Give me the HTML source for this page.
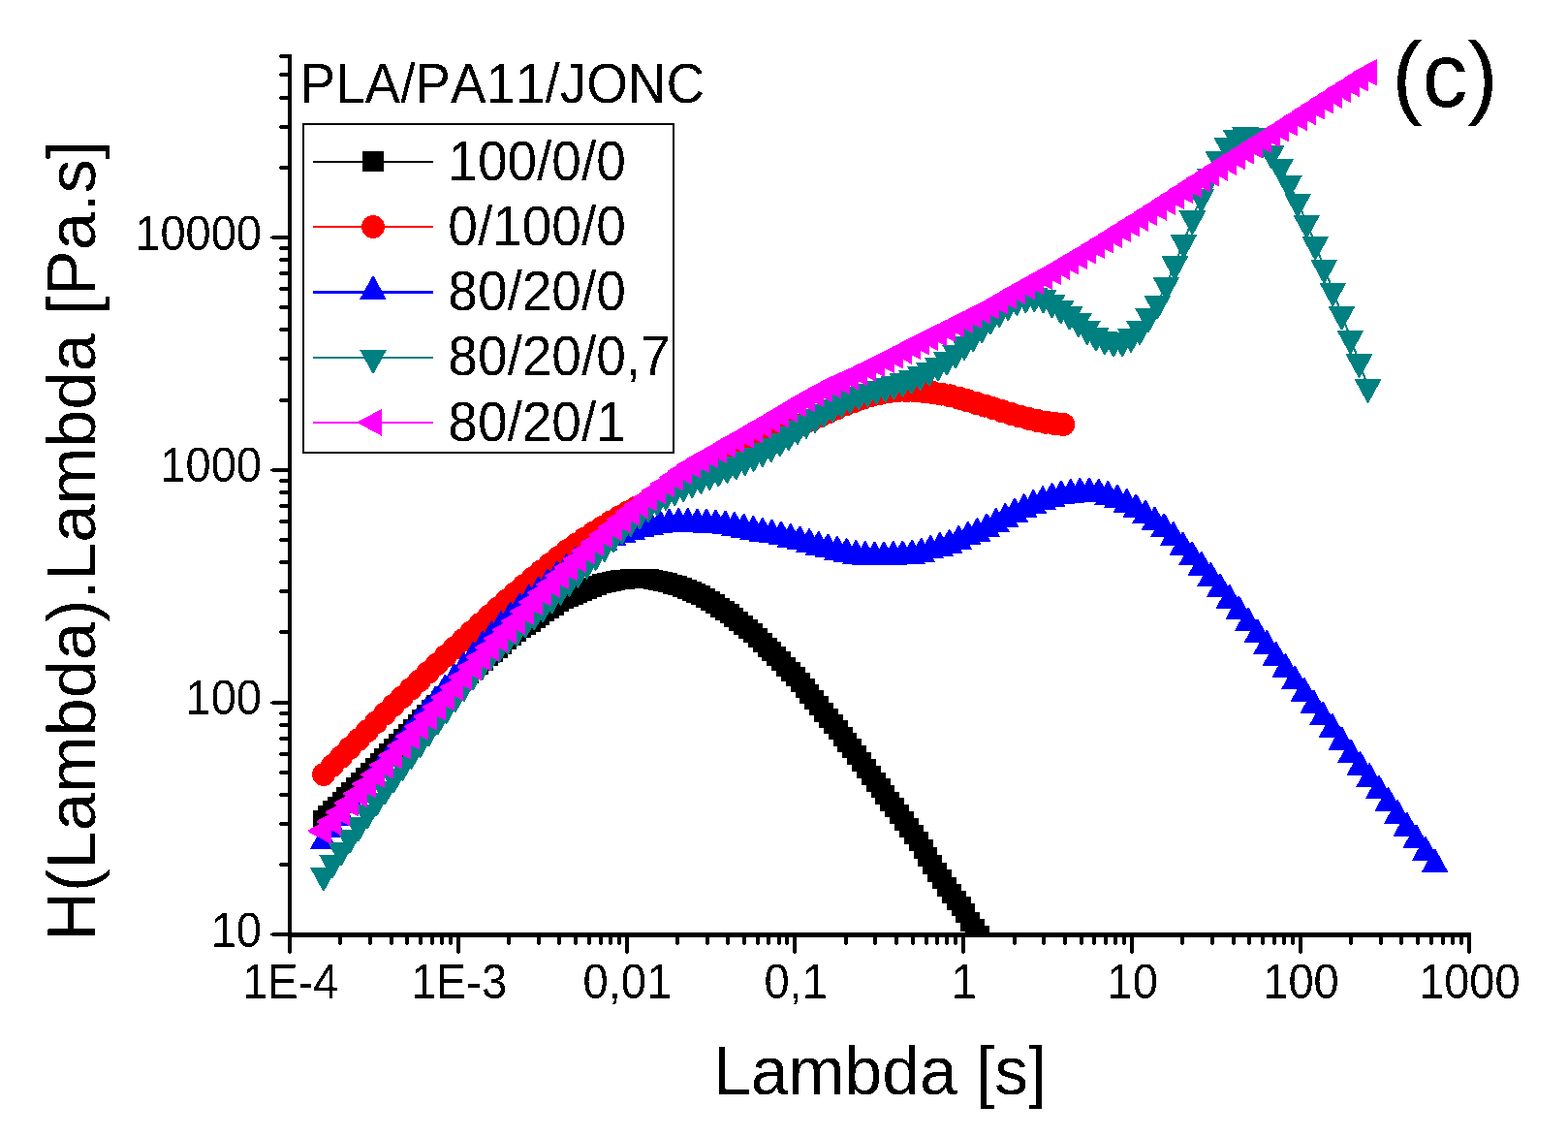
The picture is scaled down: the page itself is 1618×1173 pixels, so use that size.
<!DOCTYPE html>
<html lang="en">
<head>
<meta charset="utf-8">
<title>H(Lambda).Lambda vs Lambda - PLA/PA11/JONC (c)</title>
<style>
html,body{margin:0;padding:0;background:#fff;}
body{width:1618px;height:1173px;overflow:hidden;}
svg{display:block;}
text{font-family:"Liberation Sans",Arial,Helvetica,sans-serif;fill:#000;font-kerning:none;}
.tk{font-size:47px;}
.lg{font-size:55px;}
.ttl{font-size:69.6px;}
.pc{font-size:94px;}
</style>
</head>
<body>
<svg width="1618" height="1173" viewBox="0 0 1618 1173">
<rect width="1618" height="1173" fill="#fff"/>
<defs><filter id="bin" x="-5%" y="-20%" width="110%" height="140%" color-interpolation-filters="sRGB"><feComponentTransfer><feFuncA type="discrete" tableValues="0 1"/></feComponentTransfer></filter></defs>
<defs><clipPath id="frame"><rect x="299" y="0" width="1319" height="964"/></clipPath></defs>
<g clip-path="url(#frame)" shape-rendering="crispEdges">
<polyline fill="none" stroke="#000000" stroke-width="2" points="333,846 337.9,841.2 342.8,836.3 347.6,831.5 352.5,826.6 357.4,821.7 362.3,816.8 367.1,811.8 372,806.9 376.9,802 381.8,797 386.7,792 391.5,787.1 396.4,782.1 401.3,777.1 406.2,772.1 411,767.1 415.9,762 420.8,756.9 425.7,751.9 430.6,746.8 435.4,741.9 440.3,737 445.2,732.1 450.1,727.4 454.9,722.6 459.8,717.9 464.7,713.3 469.6,708.6 474.5,704 479.3,699.5 484.2,695 489.1,690.5 494,686 498.8,681.6 503.7,677.3 508.6,673.1 513.5,668.9 518.4,664.6 523.2,660 528.1,655.9 533,652 537.9,648.4 542.7,644.8 547.6,641.5 552.5,638.1 557.4,634.6 562.3,631.3 567.1,627.9 572,624.6 576.9,621.3 581.8,618.3 586.6,615.7 591.5,613.5 596.4,611.6 601.3,609.8 606.2,608.2 611,606.4 615.9,604.3 620.8,602.3 625.7,601.1 630.5,600.2 635.4,599.1 640.3,598.1 645.2,597.5 650.1,597.1 654.9,596.9 659.8,596.8 664.7,596.8 669.6,597 674.4,597.8 679.3,599.1 684.2,600.1 689.1,601.2 693.9,602.5 698.8,603.9 703.7,605.9 708.6,608.1 713.5,610 718.3,612 723.2,614.2 728.1,616.9 733,619.9 737.8,623.1 742.7,626.5 747.6,629.9 752.5,633.4 757.4,637 762.2,640.7 767.1,644.6 772,648.8 776.9,653.2 781.7,657.8 786.6,662.7 791.5,667.5 796.4,672.4 801.3,677.2 806.1,682.2 811,687.7 815.9,693.1 820.8,698.3 825.6,703.8 830.5,709.8 835.4,715.8 840.3,721.6 845.2,728 850,735.2 854.9,741.4 859.8,747.2 864.7,753.3 869.5,759.6 874.4,766 879.3,772.4 884.2,779.1 889.1,785.9 893.9,792.7 898.8,799.6 903.7,806.5 908.6,813.4 913.4,820.2 918.3,826.9 923.2,833.4 928.1,840 933,846.6 937.8,853.5 942.7,860.7 947.6,868.2 952.5,875.9 957.3,883.8 962.2,891.7 967.1,899.6 972,907.2 976.9,914.6 981.7,921.7 986.6,928.5 991.5,935.4 996.4,942.4 1001.2,950.5 1006.1,958.4 1011,965"/>
<path fill="#000000" d="M323 836h20v20h-20zM327.9 831.2h20v20h-20zM332.8 826.3h20v20h-20zM337.6 821.5h20v20h-20zM342.5 816.6h20v20h-20zM347.4 811.7h20v20h-20zM352.3 806.8h20v20h-20zM357.1 801.8h20v20h-20zM362 796.9h20v20h-20zM366.9 792h20v20h-20zM371.8 787h20v20h-20zM376.7 782h20v20h-20zM381.5 777.1h20v20h-20zM386.4 772.1h20v20h-20zM391.3 767.1h20v20h-20zM396.2 762.1h20v20h-20zM401 757.1h20v20h-20zM405.9 752h20v20h-20zM410.8 746.9h20v20h-20zM415.7 741.9h20v20h-20zM420.6 736.8h20v20h-20zM425.4 731.9h20v20h-20zM430.3 727h20v20h-20zM435.2 722.1h20v20h-20zM440.1 717.4h20v20h-20zM444.9 712.6h20v20h-20zM449.8 707.9h20v20h-20zM454.7 703.3h20v20h-20zM459.6 698.6h20v20h-20zM464.5 694h20v20h-20zM469.3 689.5h20v20h-20zM474.2 685h20v20h-20zM479.1 680.5h20v20h-20zM484 676h20v20h-20zM488.8 671.6h20v20h-20zM493.7 667.3h20v20h-20zM498.6 663.1h20v20h-20zM503.5 658.9h20v20h-20zM508.4 654.6h20v20h-20zM513.2 650h20v20h-20zM518.1 645.9h20v20h-20zM523 642h20v20h-20zM527.9 638.4h20v20h-20zM532.7 634.8h20v20h-20zM537.6 631.5h20v20h-20zM542.5 628.1h20v20h-20zM547.4 624.6h20v20h-20zM552.3 621.3h20v20h-20zM557.1 617.9h20v20h-20zM562 614.6h20v20h-20zM566.9 611.3h20v20h-20zM571.8 608.3h20v20h-20zM576.6 605.7h20v20h-20zM581.5 603.5h20v20h-20zM586.4 601.6h20v20h-20zM591.3 599.8h20v20h-20zM596.2 598.2h20v20h-20zM601 596.4h20v20h-20zM605.9 594.3h20v20h-20zM610.8 592.3h20v20h-20zM615.7 591.1h20v20h-20zM620.5 590.2h20v20h-20zM625.4 589.1h20v20h-20zM630.3 588.1h20v20h-20zM635.2 587.5h20v20h-20zM640.1 587.1h20v20h-20zM644.9 586.9h20v20h-20zM649.8 586.8h20v20h-20zM654.7 586.8h20v20h-20zM659.6 587h20v20h-20zM664.4 587.8h20v20h-20zM669.3 589.1h20v20h-20zM674.2 590.1h20v20h-20zM679.1 591.2h20v20h-20zM683.9 592.5h20v20h-20zM688.8 593.9h20v20h-20zM693.7 595.9h20v20h-20zM698.6 598.1h20v20h-20zM703.5 600h20v20h-20zM708.3 602h20v20h-20zM713.2 604.2h20v20h-20zM718.1 606.9h20v20h-20zM723 609.9h20v20h-20zM727.8 613.1h20v20h-20zM732.7 616.5h20v20h-20zM737.6 619.9h20v20h-20zM742.5 623.4h20v20h-20zM747.4 627h20v20h-20zM752.2 630.7h20v20h-20zM757.1 634.6h20v20h-20zM762 638.8h20v20h-20zM766.9 643.2h20v20h-20zM771.7 647.8h20v20h-20zM776.6 652.7h20v20h-20zM781.5 657.5h20v20h-20zM786.4 662.4h20v20h-20zM791.3 667.2h20v20h-20zM796.1 672.2h20v20h-20zM801 677.7h20v20h-20zM805.9 683.1h20v20h-20zM810.8 688.3h20v20h-20zM815.6 693.8h20v20h-20zM820.5 699.8h20v20h-20zM825.4 705.8h20v20h-20zM830.3 711.6h20v20h-20zM835.2 718h20v20h-20zM840 725.2h20v20h-20zM844.9 731.4h20v20h-20zM849.8 737.2h20v20h-20zM854.7 743.3h20v20h-20zM859.5 749.6h20v20h-20zM864.4 756h20v20h-20zM869.3 762.4h20v20h-20zM874.2 769.1h20v20h-20zM879.1 775.9h20v20h-20zM883.9 782.7h20v20h-20zM888.8 789.6h20v20h-20zM893.7 796.5h20v20h-20zM898.6 803.4h20v20h-20zM903.4 810.2h20v20h-20zM908.3 816.9h20v20h-20zM913.2 823.4h20v20h-20zM918.1 830h20v20h-20zM923 836.6h20v20h-20zM927.8 843.5h20v20h-20zM932.7 850.7h20v20h-20zM937.6 858.2h20v20h-20zM942.5 865.9h20v20h-20zM947.3 873.8h20v20h-20zM952.2 881.7h20v20h-20zM957.1 889.6h20v20h-20zM962 897.2h20v20h-20zM966.9 904.6h20v20h-20zM971.7 911.7h20v20h-20zM976.6 918.5h20v20h-20zM981.5 925.4h20v20h-20zM986.4 932.4h20v20h-20zM991.2 940.5h20v20h-20zM996.1 948.4h20v20h-20zM1001 955h20v20h-20z"/>
<polyline fill="none" stroke="#ff0000" stroke-width="2" points="334,799 343,789.9 352,780.9 360.9,771.9 369.9,763 378.9,754.2 387.9,745.4 396.9,736.6 405.8,727.9 414.8,719.3 423.8,710.8 432.8,702.3 441.7,693.8 450.7,685.4 459.7,677 468.7,668.6 477.7,660.2 486.6,652 495.6,643.8 504.6,635.6 513.6,627.6 522.6,619.7 531.5,611.9 540.5,604.3 549.5,596.8 558.5,589.3 567.4,582.1 576.4,575 585.4,568.1 594.4,561.6 603.4,555.5 612.3,549.6 621.3,544 630.3,538.5 639.3,533.3 648.3,528.2 657.2,523.4 666.2,518.8 675.2,514 684.2,509.3 693.2,504.5 702.1,499.9 711.1,495.3 720.1,490.8 729.1,486.3 738,481.8 747,477.4 756,473 765,468.6 774,464.2 782.9,459.8 791.9,455.4 800.9,451.1 809.9,446.7 818.9,442.2 827.8,437.9 836.8,433.6 845.8,429.4 854.8,425.3 863.8,421.2 872.7,417.4 881.7,414 890.7,410.6 899.7,407.8 908.6,405.8 917.6,404.1 926.6,403.1 935.6,403.1 944.6,403.5 953.5,404.2 962.5,405.1 971.5,406.6 980.5,408.4 989.5,410.7 998.4,413.3 1007.4,415.9 1016.4,418.6 1025.4,421.4 1034.3,424.2 1043.3,427 1052.3,429.5 1061.3,431.8 1070.3,433.9 1079.2,435.7 1088.2,437 1097.2,438"/>
<g fill="#ff0000"><circle cx="334" cy="799" r="12"/><circle cx="343" cy="789.9" r="12"/><circle cx="352" cy="780.9" r="12"/><circle cx="360.9" cy="771.9" r="12"/><circle cx="369.9" cy="763" r="12"/><circle cx="378.9" cy="754.2" r="12"/><circle cx="387.9" cy="745.4" r="12"/><circle cx="396.9" cy="736.6" r="12"/><circle cx="405.8" cy="727.9" r="12"/><circle cx="414.8" cy="719.3" r="12"/><circle cx="423.8" cy="710.8" r="12"/><circle cx="432.8" cy="702.3" r="12"/><circle cx="441.7" cy="693.8" r="12"/><circle cx="450.7" cy="685.4" r="12"/><circle cx="459.7" cy="677" r="12"/><circle cx="468.7" cy="668.6" r="12"/><circle cx="477.7" cy="660.2" r="12"/><circle cx="486.6" cy="652" r="12"/><circle cx="495.6" cy="643.8" r="12"/><circle cx="504.6" cy="635.6" r="12"/><circle cx="513.6" cy="627.6" r="12"/><circle cx="522.6" cy="619.7" r="12"/><circle cx="531.5" cy="611.9" r="12"/><circle cx="540.5" cy="604.3" r="12"/><circle cx="549.5" cy="596.8" r="12"/><circle cx="558.5" cy="589.3" r="12"/><circle cx="567.4" cy="582.1" r="12"/><circle cx="576.4" cy="575" r="12"/><circle cx="585.4" cy="568.1" r="12"/><circle cx="594.4" cy="561.6" r="12"/><circle cx="603.4" cy="555.5" r="12"/><circle cx="612.3" cy="549.6" r="12"/><circle cx="621.3" cy="544" r="12"/><circle cx="630.3" cy="538.5" r="12"/><circle cx="639.3" cy="533.3" r="12"/><circle cx="648.3" cy="528.2" r="12"/><circle cx="657.2" cy="523.4" r="12"/><circle cx="666.2" cy="518.8" r="12"/><circle cx="675.2" cy="514" r="12"/><circle cx="684.2" cy="509.3" r="12"/><circle cx="693.2" cy="504.5" r="12"/><circle cx="702.1" cy="499.9" r="12"/><circle cx="711.1" cy="495.3" r="12"/><circle cx="720.1" cy="490.8" r="12"/><circle cx="729.1" cy="486.3" r="12"/><circle cx="738" cy="481.8" r="12"/><circle cx="747" cy="477.4" r="12"/><circle cx="756" cy="473" r="12"/><circle cx="765" cy="468.6" r="12"/><circle cx="774" cy="464.2" r="12"/><circle cx="782.9" cy="459.8" r="12"/><circle cx="791.9" cy="455.4" r="12"/><circle cx="800.9" cy="451.1" r="12"/><circle cx="809.9" cy="446.7" r="12"/><circle cx="818.9" cy="442.2" r="12"/><circle cx="827.8" cy="437.9" r="12"/><circle cx="836.8" cy="433.6" r="12"/><circle cx="845.8" cy="429.4" r="12"/><circle cx="854.8" cy="425.3" r="12"/><circle cx="863.8" cy="421.2" r="12"/><circle cx="872.7" cy="417.4" r="12"/><circle cx="881.7" cy="414" r="12"/><circle cx="890.7" cy="410.6" r="12"/><circle cx="899.7" cy="407.8" r="12"/><circle cx="908.6" cy="405.8" r="12"/><circle cx="917.6" cy="404.1" r="12"/><circle cx="926.6" cy="403.1" r="12"/><circle cx="935.6" cy="403.1" r="12"/><circle cx="944.6" cy="403.5" r="12"/><circle cx="953.5" cy="404.2" r="12"/><circle cx="962.5" cy="405.1" r="12"/><circle cx="971.5" cy="406.6" r="12"/><circle cx="980.5" cy="408.4" r="12"/><circle cx="989.5" cy="410.7" r="12"/><circle cx="998.4" cy="413.3" r="12"/><circle cx="1007.4" cy="415.9" r="12"/><circle cx="1016.4" cy="418.6" r="12"/><circle cx="1025.4" cy="421.4" r="12"/><circle cx="1034.3" cy="424.2" r="12"/><circle cx="1043.3" cy="427" r="12"/><circle cx="1052.3" cy="429.5" r="12"/><circle cx="1061.3" cy="431.8" r="12"/><circle cx="1070.3" cy="433.9" r="12"/><circle cx="1079.2" cy="435.7" r="12"/><circle cx="1088.2" cy="437" r="12"/><circle cx="1097.2" cy="438" r="12"/></g>
<polyline fill="none" stroke="#0000ff" stroke-width="3" points="334,868 343.6,855.6 353.3,843.4 362.9,831.1 372.5,819 382.2,806.9 391.8,794.9 401.4,783 411.1,771.1 420.7,759.2 430.4,747.4 440,735.7 449.6,724 459.3,712.3 468.9,700.9 478.5,689.6 488.2,678.6 497.8,667.8 507.4,657 517.1,646.7 526.7,637.2 536.3,628.1 546,619.4 555.6,611 565.2,603 574.9,595.2 584.5,587.7 594.2,579.9 603.8,572 613.4,564.9 623.1,559.4 632.7,555.2 642.3,551.6 652,548.5 661.6,546.2 671.2,544.2 680.9,542.3 690.5,541 700.1,540.6 709.8,540.7 719.4,541 729,541.4 738.7,542 748.3,543.1 758,544.6 767.6,546.4 777.2,548.4 786.9,550.4 796.5,552.3 806.1,554.2 815.8,556.4 825.4,559 835,561.6 844.7,564.4 854.3,567 863.9,569.5 873.6,571.6 883.2,573.4 892.8,574.6 902.5,575.2 912.1,575.1 921.8,574.7 931.4,574.2 941,573.5 950.7,571.4 960.3,568.3 969.9,565.6 979.6,562.6 989.2,558.6 998.8,554.3 1008.5,550.7 1018.1,545.9 1027.7,540.6 1037.4,535.4 1047,530.4 1056.6,525.8 1066.3,521.7 1075.9,517.8 1085.6,514.6 1095.2,512.2 1104.8,510.5 1114.5,509.5 1124.1,509.4 1133.7,510.3 1143.4,512.6 1153,516.2 1162.6,520.6 1172.3,526 1181.9,532.2 1191.5,539 1201.2,545.9 1210.8,554.8 1220.4,564.9 1230.1,575 1239.7,585.5 1249.4,596.5 1259,608 1268.6,619.5 1278.3,631.1 1287.9,643 1297.5,655 1307.2,666.7 1316.8,678.5 1326.4,690.7 1336.1,703.1 1345.7,715.5 1355.3,728 1365,740.3 1374.6,752.7 1384.2,765.9 1393.9,779.2 1403.5,791.7 1413.2,803.8 1422.8,816.1 1432.4,828.7 1442.1,841.6 1451.7,854.4 1461.3,867 1471,879.6 1480.6,892.1"/>
<path fill="#0000ff" d="M333.2 851.6h1.5l13.25 24.5h-28zM342.9 839.2h1.5l13.25 24.5h-28zM352.5 827h1.5l13.25 24.5h-28zM362.2 814.7h1.5l13.25 24.5h-28zM371.8 802.6h1.5l13.25 24.5h-28zM381.4 790.5h1.5l13.25 24.5h-28zM391.1 778.5h1.5l13.25 24.5h-28zM400.7 766.6h1.5l13.25 24.5h-28zM410.3 754.7h1.5l13.25 24.5h-28zM420 742.8h1.5l13.25 24.5h-28zM429.6 731h1.5l13.25 24.5h-28zM439.2 719.3h1.5l13.25 24.5h-28zM448.9 707.6h1.5l13.25 24.5h-28zM458.5 695.9h1.5l13.25 24.5h-28zM468.1 684.5h1.5l13.25 24.5h-28zM477.8 673.2h1.5l13.25 24.5h-28zM487.4 662.2h1.5l13.25 24.5h-28zM497 651.4h1.5l13.25 24.5h-28zM506.7 640.6h1.5l13.25 24.5h-28zM516.3 630.3h1.5l13.25 24.5h-28zM526 620.8h1.5l13.25 24.5h-28zM535.6 611.7h1.5l13.25 24.5h-28zM545.2 603h1.5l13.25 24.5h-28zM554.9 594.6h1.5l13.25 24.5h-28zM564.5 586.6h1.5l13.25 24.5h-28zM574.1 578.8h1.5l13.25 24.5h-28zM583.8 571.3h1.5l13.25 24.5h-28zM593.4 563.5h1.5l13.25 24.5h-28zM603 555.6h1.5l13.25 24.5h-28zM612.7 548.5h1.5l13.25 24.5h-28zM622.3 543h1.5l13.25 24.5h-28zM631.9 538.8h1.5l13.25 24.5h-28zM641.6 535.2h1.5l13.25 24.5h-28zM651.2 532.1h1.5l13.25 24.5h-28zM660.8 529.8h1.5l13.25 24.5h-28zM670.5 527.8h1.5l13.25 24.5h-28zM680.1 525.9h1.5l13.25 24.5h-28zM689.8 524.6h1.5l13.25 24.5h-28zM699.4 524.2h1.5l13.25 24.5h-28zM709 524.3h1.5l13.25 24.5h-28zM718.7 524.6h1.5l13.25 24.5h-28zM728.3 525h1.5l13.25 24.5h-28zM737.9 525.6h1.5l13.25 24.5h-28zM747.6 526.7h1.5l13.25 24.5h-28zM757.2 528.2h1.5l13.25 24.5h-28zM766.8 530h1.5l13.25 24.5h-28zM776.5 532h1.5l13.25 24.5h-28zM786.1 534h1.5l13.25 24.5h-28zM795.7 535.9h1.5l13.25 24.5h-28zM805.4 537.8h1.5l13.25 24.5h-28zM815 540h1.5l13.25 24.5h-28zM824.6 542.6h1.5l13.25 24.5h-28zM834.3 545.2h1.5l13.25 24.5h-28zM843.9 548h1.5l13.25 24.5h-28zM853.6 550.6h1.5l13.25 24.5h-28zM863.2 553.1h1.5l13.25 24.5h-28zM872.8 555.2h1.5l13.25 24.5h-28zM882.5 557h1.5l13.25 24.5h-28zM892.1 558.2h1.5l13.25 24.5h-28zM901.7 558.8h1.5l13.25 24.5h-28zM911.4 558.7h1.5l13.25 24.5h-28zM921 558.3h1.5l13.25 24.5h-28zM930.6 557.8h1.5l13.25 24.5h-28zM940.3 557.1h1.5l13.25 24.5h-28zM949.9 555h1.5l13.25 24.5h-28zM959.5 551.9h1.5l13.25 24.5h-28zM969.2 549.2h1.5l13.25 24.5h-28zM978.8 546.2h1.5l13.25 24.5h-28zM988.4 542.2h1.5l13.25 24.5h-28zM998.1 537.9h1.5l13.25 24.5h-28zM1007.7 534.3h1.5l13.25 24.5h-28zM1017.4 529.5h1.5l13.25 24.5h-28zM1027 524.2h1.5l13.25 24.5h-28zM1036.6 519h1.5l13.25 24.5h-28zM1046.3 514h1.5l13.25 24.5h-28zM1055.9 509.4h1.5l13.25 24.5h-28zM1065.5 505.3h1.5l13.25 24.5h-28zM1075.2 501.4h1.5l13.25 24.5h-28zM1084.8 498.2h1.5l13.25 24.5h-28zM1094.4 495.8h1.5l13.25 24.5h-28zM1104.1 494.1h1.5l13.25 24.5h-28zM1113.7 493.1h1.5l13.25 24.5h-28zM1123.3 493h1.5l13.25 24.5h-28zM1133 493.9h1.5l13.25 24.5h-28zM1142.6 496.2h1.5l13.25 24.5h-28zM1152.2 499.8h1.5l13.25 24.5h-28zM1161.9 504.2h1.5l13.25 24.5h-28zM1171.5 509.6h1.5l13.25 24.5h-28zM1181.2 515.8h1.5l13.25 24.5h-28zM1190.8 522.6h1.5l13.25 24.5h-28zM1200.4 529.5h1.5l13.25 24.5h-28zM1210.1 538.4h1.5l13.25 24.5h-28zM1219.7 548.5h1.5l13.25 24.5h-28zM1229.3 558.6h1.5l13.25 24.5h-28zM1239 569.1h1.5l13.25 24.5h-28zM1248.6 580.1h1.5l13.25 24.5h-28zM1258.2 591.6h1.5l13.25 24.5h-28zM1267.9 603.1h1.5l13.25 24.5h-28zM1277.5 614.7h1.5l13.25 24.5h-28zM1287.1 626.6h1.5l13.25 24.5h-28zM1296.8 638.6h1.5l13.25 24.5h-28zM1306.4 650.3h1.5l13.25 24.5h-28zM1316 662.1h1.5l13.25 24.5h-28zM1325.7 674.3h1.5l13.25 24.5h-28zM1335.3 686.7h1.5l13.25 24.5h-28zM1345 699.1h1.5l13.25 24.5h-28zM1354.6 711.6h1.5l13.25 24.5h-28zM1364.2 723.9h1.5l13.25 24.5h-28zM1373.9 736.3h1.5l13.25 24.5h-28zM1383.5 749.5h1.5l13.25 24.5h-28zM1393.1 762.8h1.5l13.25 24.5h-28zM1402.8 775.3h1.5l13.25 24.5h-28zM1412.4 787.4h1.5l13.25 24.5h-28zM1422 799.7h1.5l13.25 24.5h-28zM1431.7 812.3h1.5l13.25 24.5h-28zM1441.3 825.2h1.5l13.25 24.5h-28zM1450.9 838h1.5l13.25 24.5h-28zM1460.6 850.6h1.5l13.25 24.5h-28zM1470.2 863.2h1.5l13.25 24.5h-28zM1479.8 875.7h1.5l13.25 24.5h-28z"/>
<polyline fill="none" stroke="#008080" stroke-width="2" points="333.9,902.8 343,889.6 352,876.6 361.1,863.8 370.1,851.1 379.2,838.5 388.2,826 397.3,813.7 406.4,801.5 415.4,789.4 424.5,777.4 433.5,765.5 442.6,753.7 451.6,742 460.7,730.3 469.7,718.7 478.8,707.1 487.9,696 496.9,685.5 506,676 515,667.2 524.1,658.8 533.1,650.3 542.2,641.9 551.3,633.7 560.3,625.4 569.4,616.9 578.4,608.2 587.5,599.2 596.5,590.2 605.6,581.2 614.6,572.3 623.7,563.2 632.8,554 641.8,545.3 650.9,537.3 659.9,529.7 669,522.5 678,516 687.1,510.4 696.2,505.5 705.2,501.1 714.3,497.1 723.3,493.2 732.4,489.4 741.4,485.7 750.5,482.3 759.5,478.6 768.6,474.5 777.7,470.2 786.7,465.5 795.8,460.5 804.8,454.8 813.9,448.5 822.9,442.3 832,436.2 841.1,430.2 850.1,424.7 859.2,419.7 868.2,414.9 877.3,410.5 886.3,406.7 895.4,403.7 904.4,401 913.5,398.5 922.6,395.9 931.6,393.1 940.7,389.9 949.7,386.2 958.8,382 967.8,376.9 976.9,371 986,363.7 995,355.4 1004.1,346.5 1013.1,337.4 1022.2,328.8 1031.2,321.1 1040.3,314.1 1049.3,309.2 1058.4,306.6 1067.5,305.5 1076.5,306.9 1085.6,311.9 1094.6,317.7 1103.7,323.9 1112.7,331.4 1121.8,339.2 1130.9,345.9 1139.9,349.6 1149,351.7 1158,351.5 1167.1,347.2 1176.1,339.2 1185.2,326.1 1194.2,312.8 1203.3,293.7 1212.4,272.3 1221.4,250 1230.5,225.5 1239.5,202.6 1248.6,181.8 1257.6,164.4 1266.7,150.4 1275.8,142.3 1284.8,139 1293.9,140.5 1302.9,147 1312,157.7 1321,172 1330.1,188.7 1339.1,207.9 1348.2,229.6 1357.3,251.9 1366.3,276 1375.4,299.7 1384.4,323.9 1393.5,348.8 1402.5,373.3 1411.6,399.2"/>
<path fill="#008080" d="M334.6 919.2h-1.5l-13.25 -24.5h28zM343.7 906h-1.5l-13.25 -24.5h28zM352.8 893h-1.5l-13.25 -24.5h28zM361.8 880.2h-1.5l-13.25 -24.5h28zM370.9 867.5h-1.5l-13.25 -24.5h28zM379.9 854.9h-1.5l-13.25 -24.5h28zM389 842.4h-1.5l-13.25 -24.5h28zM398 830.1h-1.5l-13.25 -24.5h28zM407.1 817.9h-1.5l-13.25 -24.5h28zM416.2 805.8h-1.5l-13.25 -24.5h28zM425.2 793.8h-1.5l-13.25 -24.5h28zM434.3 781.9h-1.5l-13.25 -24.5h28zM443.3 770.1h-1.5l-13.25 -24.5h28zM452.4 758.4h-1.5l-13.25 -24.5h28zM461.4 746.7h-1.5l-13.25 -24.5h28zM470.5 735.1h-1.5l-13.25 -24.5h28zM479.6 723.5h-1.5l-13.25 -24.5h28zM488.6 712.4h-1.5l-13.25 -24.5h28zM497.7 701.9h-1.5l-13.25 -24.5h28zM506.7 692.4h-1.5l-13.25 -24.5h28zM515.8 683.6h-1.5l-13.25 -24.5h28zM524.8 675.2h-1.5l-13.25 -24.5h28zM533.9 666.7h-1.5l-13.25 -24.5h28zM542.9 658.3h-1.5l-13.25 -24.5h28zM552 650.1h-1.5l-13.25 -24.5h28zM561.1 641.8h-1.5l-13.25 -24.5h28zM570.1 633.3h-1.5l-13.25 -24.5h28zM579.2 624.6h-1.5l-13.25 -24.5h28zM588.2 615.6h-1.5l-13.25 -24.5h28zM597.3 606.6h-1.5l-13.25 -24.5h28zM606.3 597.6h-1.5l-13.25 -24.5h28zM615.4 588.7h-1.5l-13.25 -24.5h28zM624.5 579.6h-1.5l-13.25 -24.5h28zM633.5 570.4h-1.5l-13.25 -24.5h28zM642.6 561.7h-1.5l-13.25 -24.5h28zM651.6 553.7h-1.5l-13.25 -24.5h28zM660.7 546.1h-1.5l-13.25 -24.5h28zM669.7 538.9h-1.5l-13.25 -24.5h28zM678.8 532.4h-1.5l-13.25 -24.5h28zM687.8 526.8h-1.5l-13.25 -24.5h28zM696.9 521.9h-1.5l-13.25 -24.5h28zM706 517.5h-1.5l-13.25 -24.5h28zM715 513.5h-1.5l-13.25 -24.5h28zM724.1 509.6h-1.5l-13.25 -24.5h28zM733.1 505.8h-1.5l-13.25 -24.5h28zM742.2 502.1h-1.5l-13.25 -24.5h28zM751.2 498.7h-1.5l-13.25 -24.5h28zM760.3 495h-1.5l-13.25 -24.5h28zM769.4 490.9h-1.5l-13.25 -24.5h28zM778.4 486.6h-1.5l-13.25 -24.5h28zM787.5 481.9h-1.5l-13.25 -24.5h28zM796.5 476.9h-1.5l-13.25 -24.5h28zM805.6 471.2h-1.5l-13.25 -24.5h28zM814.6 464.9h-1.5l-13.25 -24.5h28zM823.7 458.7h-1.5l-13.25 -24.5h28zM832.7 452.6h-1.5l-13.25 -24.5h28zM841.8 446.6h-1.5l-13.25 -24.5h28zM850.9 441.1h-1.5l-13.25 -24.5h28zM859.9 436.1h-1.5l-13.25 -24.5h28zM869 431.3h-1.5l-13.25 -24.5h28zM878 426.9h-1.5l-13.25 -24.5h28zM887.1 423.1h-1.5l-13.25 -24.5h28zM896.1 420.1h-1.5l-13.25 -24.5h28zM905.2 417.4h-1.5l-13.25 -24.5h28zM914.3 414.9h-1.5l-13.25 -24.5h28zM923.3 412.3h-1.5l-13.25 -24.5h28zM932.4 409.5h-1.5l-13.25 -24.5h28zM941.4 406.3h-1.5l-13.25 -24.5h28zM950.5 402.6h-1.5l-13.25 -24.5h28zM959.5 398.4h-1.5l-13.25 -24.5h28zM968.6 393.3h-1.5l-13.25 -24.5h28zM977.6 387.4h-1.5l-13.25 -24.5h28zM986.7 380.1h-1.5l-13.25 -24.5h28zM995.8 371.8h-1.5l-13.25 -24.5h28zM1004.8 362.9h-1.5l-13.25 -24.5h28zM1013.9 353.8h-1.5l-13.25 -24.5h28zM1022.9 345.2h-1.5l-13.25 -24.5h28zM1032 337.5h-1.5l-13.25 -24.5h28zM1041 330.5h-1.5l-13.25 -24.5h28zM1050.1 325.6h-1.5l-13.25 -24.5h28zM1059.2 323h-1.5l-13.25 -24.5h28zM1068.2 321.9h-1.5l-13.25 -24.5h28zM1077.3 323.3h-1.5l-13.25 -24.5h28zM1086.3 328.3h-1.5l-13.25 -24.5h28zM1095.4 334.1h-1.5l-13.25 -24.5h28zM1104.4 340.3h-1.5l-13.25 -24.5h28zM1113.5 347.8h-1.5l-13.25 -24.5h28zM1122.5 355.6h-1.5l-13.25 -24.5h28zM1131.6 362.3h-1.5l-13.25 -24.5h28zM1140.7 366h-1.5l-13.25 -24.5h28zM1149.7 368.1h-1.5l-13.25 -24.5h28zM1158.8 367.9h-1.5l-13.25 -24.5h28zM1167.8 363.6h-1.5l-13.25 -24.5h28zM1176.9 355.6h-1.5l-13.25 -24.5h28zM1185.9 342.5h-1.5l-13.25 -24.5h28zM1195 329.2h-1.5l-13.25 -24.5h28zM1204.1 310.1h-1.5l-13.25 -24.5h28zM1213.1 288.7h-1.5l-13.25 -24.5h28zM1222.2 266.4h-1.5l-13.25 -24.5h28zM1231.2 241.9h-1.5l-13.25 -24.5h28zM1240.3 219h-1.5l-13.25 -24.5h28zM1249.3 198.2h-1.5l-13.25 -24.5h28zM1258.4 180.8h-1.5l-13.25 -24.5h28zM1267.4 166.8h-1.5l-13.25 -24.5h28zM1276.5 158.7h-1.5l-13.25 -24.5h28zM1285.6 155.4h-1.5l-13.25 -24.5h28zM1294.6 156.9h-1.5l-13.25 -24.5h28zM1303.7 163.4h-1.5l-13.25 -24.5h28zM1312.7 174.1h-1.5l-13.25 -24.5h28zM1321.8 188.4h-1.5l-13.25 -24.5h28zM1330.8 205.1h-1.5l-13.25 -24.5h28zM1339.9 224.3h-1.5l-13.25 -24.5h28zM1349 246h-1.5l-13.25 -24.5h28zM1358 268.3h-1.5l-13.25 -24.5h28zM1367.1 292.4h-1.5l-13.25 -24.5h28zM1376.1 316.1h-1.5l-13.25 -24.5h28zM1385.2 340.3h-1.5l-13.25 -24.5h28zM1394.2 365.2h-1.5l-13.25 -24.5h28zM1403.3 389.7h-1.5l-13.25 -24.5h28zM1412.3 415.6h-1.5l-13.25 -24.5h28z"/>
<polyline fill="none" stroke="#ff00ff" stroke-width="2" points="333.3,857.2 342.4,847.7 351.4,838.1 360.5,828.4 369.6,818.7 378.6,809 387.7,799.2 396.7,789.3 405.8,779.5 414.9,769.6 423.9,759.6 433,749.7 442.1,739.6 451.1,729.6 460.2,719.4 469.3,709 478.3,698.6 487.4,688.2 496.4,678 505.5,668.2 514.6,658.9 523.6,649.9 532.7,640.7 541.8,631 550.8,621.1 559.9,611.6 569,602.9 578,594.1 587.1,585.7 596.2,577 605.2,568.5 614.3,560.1 623.3,551.8 632.4,543.8 641.5,536 650.5,528.3 659.6,520.7 668.7,513.4 677.7,506.2 686.8,499.3 695.9,492.5 704.9,486 714,479.9 723,474.4 732.1,469.2 741.2,464.1 750.2,458.9 759.3,453.7 768.4,448.4 777.4,443.2 786.5,438 795.6,432.8 804.6,427.5 813.7,422.1 822.7,416.7 831.8,411.3 840.9,406.2 849.9,401.4 859,397.2 868.1,393.2 877.1,388.9 886.2,384.5 895.3,380 904.3,375.5 913.4,370.9 922.5,366.3 931.5,361.7 940.6,357.1 949.6,352.5 958.7,348 967.8,343.5 976.8,339 985.9,334.5 995,329.9 1004,325.3 1013.1,320.6 1022.2,315.8 1031.2,310.7 1040.3,305.5 1049.3,300.2 1058.4,295.1 1067.5,290 1076.5,285 1085.6,279.9 1094.7,274.8 1103.7,269.6 1112.8,264.2 1121.9,258.7 1130.9,253.2 1140,247.6 1149,242 1158.1,236.4 1167.2,230.7 1176.2,225 1185.3,219.3 1194.4,213.5 1203.4,207.7 1212.5,201.9 1221.6,196 1230.6,190.2 1239.7,184.4 1248.8,178.6 1257.8,172.8 1266.9,167.1 1275.9,161.3 1285,155.6 1294.1,149.9 1303.1,144.2 1312.2,138.5 1321.3,132.7 1330.3,126.9 1339.4,121 1348.5,115.2 1357.5,109.3 1366.6,103.5 1375.6,97.7 1384.7,92 1393.8,86.2 1402.8,80.5 1411.9,74.8"/>
<path fill="#ff00ff" d="M317.7 858v-1.5l24.7 -13.25v28zM326.8 848.4v-1.5l24.7 -13.25v28zM335.8 838.8v-1.5l24.7 -13.25v28zM344.9 829.2v-1.5l24.7 -13.25v28zM354 819.5v-1.5l24.7 -13.25v28zM363 809.7v-1.5l24.7 -13.25v28zM372.1 799.9v-1.5l24.7 -13.25v28zM381.1 790.1v-1.5l24.7 -13.25v28zM390.2 780.2v-1.5l24.7 -13.25v28zM399.3 770.3v-1.5l24.7 -13.25v28zM408.3 760.4v-1.5l24.7 -13.25v28zM417.4 750.4v-1.5l24.7 -13.25v28zM426.5 740.4v-1.5l24.7 -13.25v28zM435.5 730.4v-1.5l24.7 -13.25v28zM444.6 720.2v-1.5l24.7 -13.25v28zM453.7 709.8v-1.5l24.7 -13.25v28zM462.7 699.3v-1.5l24.7 -13.25v28zM471.8 688.9v-1.5l24.7 -13.25v28zM480.8 678.7v-1.5l24.7 -13.25v28zM489.9 668.9v-1.5l24.7 -13.25v28zM499 659.6v-1.5l24.7 -13.25v28zM508 650.6v-1.5l24.7 -13.25v28zM517.1 641.5v-1.5l24.7 -13.25v28zM526.2 631.7v-1.5l24.7 -13.25v28zM535.2 621.8v-1.5l24.7 -13.25v28zM544.3 612.4v-1.5l24.7 -13.25v28zM553.4 603.7v-1.5l24.7 -13.25v28zM562.4 594.8v-1.5l24.7 -13.25v28zM571.5 586.4v-1.5l24.7 -13.25v28zM580.6 577.8v-1.5l24.7 -13.25v28zM589.6 569.3v-1.5l24.7 -13.25v28zM598.7 560.9v-1.5l24.7 -13.25v28zM607.7 552.6v-1.5l24.7 -13.25v28zM616.8 544.6v-1.5l24.7 -13.25v28zM625.9 536.7v-1.5l24.7 -13.25v28zM634.9 529v-1.5l24.7 -13.25v28zM644 521.5v-1.5l24.7 -13.25v28zM653.1 514.1v-1.5l24.7 -13.25v28zM662.1 507v-1.5l24.7 -13.25v28zM671.2 500v-1.5l24.7 -13.25v28zM680.3 493.2v-1.5l24.7 -13.25v28zM689.3 486.7v-1.5l24.7 -13.25v28zM698.4 480.6v-1.5l24.7 -13.25v28zM707.4 475.1v-1.5l24.7 -13.25v28zM716.5 470v-1.5l24.7 -13.25v28zM725.6 464.9v-1.5l24.7 -13.25v28zM734.6 459.6v-1.5l24.7 -13.25v28zM743.7 454.4v-1.5l24.7 -13.25v28zM752.8 449.2v-1.5l24.7 -13.25v28zM761.8 444v-1.5l24.7 -13.25v28zM770.9 438.7v-1.5l24.7 -13.25v28zM780 433.5v-1.5l24.7 -13.25v28zM789 428.3v-1.5l24.7 -13.25v28zM798.1 422.9v-1.5l24.7 -13.25v28zM807.1 417.4v-1.5l24.7 -13.25v28zM816.2 412.1v-1.5l24.7 -13.25v28zM825.3 406.9v-1.5l24.7 -13.25v28zM834.3 402.2v-1.5l24.7 -13.25v28zM843.4 398v-1.5l24.7 -13.25v28zM852.5 394v-1.5l24.7 -13.25v28zM861.5 389.7v-1.5l24.7 -13.25v28zM870.6 385.3v-1.5l24.7 -13.25v28zM879.7 380.8v-1.5l24.7 -13.25v28zM888.7 376.3v-1.5l24.7 -13.25v28zM897.8 371.7v-1.5l24.7 -13.25v28zM906.9 367.1v-1.5l24.7 -13.25v28zM915.9 362.4v-1.5l24.7 -13.25v28zM925 357.8v-1.5l24.7 -13.25v28zM934 353.3v-1.5l24.7 -13.25v28zM943.1 348.7v-1.5l24.7 -13.25v28zM952.2 344.3v-1.5l24.7 -13.25v28zM961.2 339.8v-1.5l24.7 -13.25v28zM970.3 335.2v-1.5l24.7 -13.25v28zM979.4 330.7v-1.5l24.7 -13.25v28zM988.4 326.1v-1.5l24.7 -13.25v28zM997.5 321.3v-1.5l24.7 -13.25v28zM1006.6 316.5v-1.5l24.7 -13.25v28zM1015.6 311.5v-1.5l24.7 -13.25v28zM1024.7 306.2v-1.5l24.7 -13.25v28zM1033.7 300.9v-1.5l24.7 -13.25v28zM1042.8 295.8v-1.5l24.7 -13.25v28zM1051.9 290.7v-1.5l24.7 -13.25v28zM1060.9 285.7v-1.5l24.7 -13.25v28zM1070 280.7v-1.5l24.7 -13.25v28zM1079.1 275.5v-1.5l24.7 -13.25v28zM1088.1 270.3v-1.5l24.7 -13.25v28zM1097.2 264.9v-1.5l24.7 -13.25v28zM1106.3 259.5v-1.5l24.7 -13.25v28zM1115.3 253.9v-1.5l24.7 -13.25v28zM1124.4 248.4v-1.5l24.7 -13.25v28zM1133.4 242.8v-1.5l24.7 -13.25v28zM1142.5 237.1v-1.5l24.7 -13.25v28zM1151.6 231.5v-1.5l24.7 -13.25v28zM1160.6 225.8v-1.5l24.7 -13.25v28zM1169.7 220v-1.5l24.7 -13.25v28zM1178.8 214.3v-1.5l24.7 -13.25v28zM1187.8 208.5v-1.5l24.7 -13.25v28zM1196.9 202.6v-1.5l24.7 -13.25v28zM1206 196.8v-1.5l24.7 -13.25v28zM1215 190.9v-1.5l24.7 -13.25v28zM1224.1 185.1v-1.5l24.7 -13.25v28zM1233.2 179.3v-1.5l24.7 -13.25v28zM1242.2 173.6v-1.5l24.7 -13.25v28zM1251.3 167.8v-1.5l24.7 -13.25v28zM1260.3 162.1v-1.5l24.7 -13.25v28zM1269.4 156.3v-1.5l24.7 -13.25v28zM1278.5 150.6v-1.5l24.7 -13.25v28zM1287.5 144.9v-1.5l24.7 -13.25v28zM1296.6 139.2v-1.5l24.7 -13.25v28zM1305.7 133.5v-1.5l24.7 -13.25v28zM1314.7 127.6v-1.5l24.7 -13.25v28zM1323.8 121.8v-1.5l24.7 -13.25v28zM1332.9 115.9v-1.5l24.7 -13.25v28zM1341.9 110.1v-1.5l24.7 -13.25v28zM1351 104.3v-1.5l24.7 -13.25v28zM1360 98.5v-1.5l24.7 -13.25v28zM1369.1 92.7v-1.5l24.7 -13.25v28zM1378.2 87v-1.5l24.7 -13.25v28zM1387.2 81.3v-1.5l24.7 -13.25v28zM1396.3 75.5v-1.5l24.7 -13.25v28z"/>
</g>
<path fill="#000" shape-rendering="crispEdges" d="M297 56h4v911h-4zM297 962h1221v5h-1221zM297 966h4v16.6h-4zM298 982.6h2v1.4h-2zM349 966h4v7.6h-4zM350 973.6h2v1.4h-2zM380 966h4v7.6h-4zM381 973.6h2v1.4h-2zM402 966h4v7.6h-4zM403 973.6h2v1.4h-2zM418 966h4v7.6h-4zM419 973.6h2v1.4h-2zM432 966h4v7.6h-4zM433 973.6h2v1.4h-2zM444 966h4v7.6h-4zM445 973.6h2v1.4h-2zM454 966h4v7.6h-4zM455 973.6h2v1.4h-2zM463 966h4v7.6h-4zM464 973.6h2v1.4h-2zM471 966h4v16.6h-4zM472 982.6h2v1.4h-2zM523 966h4v7.6h-4zM524 973.6h2v1.4h-2zM554 966h4v7.6h-4zM555 973.6h2v1.4h-2zM575 966h4v7.6h-4zM576 973.6h2v1.4h-2zM592 966h4v7.6h-4zM593 973.6h2v1.4h-2zM606 966h4v7.6h-4zM607 973.6h2v1.4h-2zM618 966h4v7.6h-4zM619 973.6h2v1.4h-2zM628 966h4v7.6h-4zM629 973.6h2v1.4h-2zM637 966h4v7.6h-4zM638 973.6h2v1.4h-2zM645 966h4v16.6h-4zM646 982.6h2v1.4h-2zM697 966h4v7.6h-4zM698 973.6h2v1.4h-2zM728 966h4v7.6h-4zM729 973.6h2v1.4h-2zM749 966h4v7.6h-4zM750 973.6h2v1.4h-2zM766 966h4v7.6h-4zM767 973.6h2v1.4h-2zM780 966h4v7.6h-4zM781 973.6h2v1.4h-2zM791 966h4v7.6h-4zM792 973.6h2v1.4h-2zM802 966h4v7.6h-4zM803 973.6h2v1.4h-2zM810 966h4v7.6h-4zM811 973.6h2v1.4h-2zM818 966h4v16.6h-4zM819 982.6h2v1.4h-2zM871 966h4v7.6h-4zM872 973.6h2v1.4h-2zM901 966h4v7.6h-4zM902 973.6h2v1.4h-2zM923 966h4v7.6h-4zM924 973.6h2v1.4h-2zM940 966h4v7.6h-4zM941 973.6h2v1.4h-2zM954 966h4v7.6h-4zM955 973.6h2v1.4h-2zM965 966h4v7.6h-4zM966 973.6h2v1.4h-2zM975 966h4v7.6h-4zM976 973.6h2v1.4h-2zM984 966h4v7.6h-4zM985 973.6h2v1.4h-2zM992 966h4v16.6h-4zM993 982.6h2v1.4h-2zM1045 966h4v7.6h-4zM1046 973.6h2v1.4h-2zM1075 966h4v7.6h-4zM1076 973.6h2v1.4h-2zM1097 966h4v7.6h-4zM1098 973.6h2v1.4h-2zM1114 966h4v7.6h-4zM1115 973.6h2v1.4h-2zM1127 966h4v7.6h-4zM1128 973.6h2v1.4h-2zM1139 966h4v7.6h-4zM1140 973.6h2v1.4h-2zM1149 966h4v7.6h-4zM1150 973.6h2v1.4h-2zM1158 966h4v7.6h-4zM1159 973.6h2v1.4h-2zM1166 966h4v16.6h-4zM1167 982.6h2v1.4h-2zM1218 966h4v7.6h-4zM1219 973.6h2v1.4h-2zM1249 966h4v7.6h-4zM1250 973.6h2v1.4h-2zM1271 966h4v7.6h-4zM1272 973.6h2v1.4h-2zM1287 966h4v7.6h-4zM1288 973.6h2v1.4h-2zM1301 966h4v7.6h-4zM1302 973.6h2v1.4h-2zM1313 966h4v7.6h-4zM1314 973.6h2v1.4h-2zM1323 966h4v7.6h-4zM1324 973.6h2v1.4h-2zM1332 966h4v7.6h-4zM1333 973.6h2v1.4h-2zM1340 966h4v16.6h-4zM1341 982.6h2v1.4h-2zM1392 966h4v7.6h-4zM1393 973.6h2v1.4h-2zM1423 966h4v7.6h-4zM1424 973.6h2v1.4h-2zM1444 966h4v7.6h-4zM1445 973.6h2v1.4h-2zM1461 966h4v7.6h-4zM1462 973.6h2v1.4h-2zM1475 966h4v7.6h-4zM1476 973.6h2v1.4h-2zM1487 966h4v7.6h-4zM1488 973.6h2v1.4h-2zM1497 966h4v7.6h-4zM1498 973.6h2v1.4h-2zM1506 966h4v7.6h-4zM1507 973.6h2v1.4h-2zM1514 966h4v16.6h-4zM1515 982.6h2v1.4h-2zM280.8 962h18.2v4h-18.2zM279.4 963h1.4v2h-1.4zM289.4 890h9.6v4h-9.6zM288 891h1.4v2h-1.4zM289.4 848h9.6v4h-9.6zM288 849h1.4v2h-1.4zM289.4 818h9.6v4h-9.6zM288 819h1.4v2h-1.4zM289.4 795h9.6v4h-9.6zM288 796h1.4v2h-1.4zM289.4 776h9.6v4h-9.6zM288 777h1.4v2h-1.4zM289.4 760h9.6v4h-9.6zM288 761h1.4v2h-1.4zM289.4 746h9.6v4h-9.6zM288 747h1.4v2h-1.4zM289.4 734h9.6v4h-9.6zM288 735h1.4v2h-1.4zM280.8 723h18.2v4h-18.2zM279.4 724h1.4v2h-1.4zM289.4 650h9.6v4h-9.6zM288 651h1.4v2h-1.4zM289.4 608h9.6v4h-9.6zM288 609h1.4v2h-1.4zM289.4 578h9.6v4h-9.6zM288 579h1.4v2h-1.4zM289.4 555h9.6v4h-9.6zM288 556h1.4v2h-1.4zM289.4 536h9.6v4h-9.6zM288 537h1.4v2h-1.4zM289.4 520h9.6v4h-9.6zM288 521h1.4v2h-1.4zM289.4 506h9.6v4h-9.6zM288 507h1.4v2h-1.4zM289.4 494h9.6v4h-9.6zM288 495h1.4v2h-1.4zM280.8 483h18.2v4h-18.2zM279.4 484h1.4v2h-1.4zM289.4 411h9.6v4h-9.6zM288 412h1.4v2h-1.4zM289.4 368h9.6v4h-9.6zM288 369h1.4v2h-1.4zM289.4 338h9.6v4h-9.6zM288 339h1.4v2h-1.4zM289.4 315h9.6v4h-9.6zM288 316h1.4v2h-1.4zM289.4 296h9.6v4h-9.6zM288 297h1.4v2h-1.4zM289.4 280h9.6v4h-9.6zM288 281h1.4v2h-1.4zM289.4 266h9.6v4h-9.6zM288 267h1.4v2h-1.4zM289.4 254h9.6v4h-9.6zM288 255h1.4v2h-1.4zM280.8 243h18.2v4h-18.2zM279.4 244h1.4v2h-1.4zM289.4 171h9.6v4h-9.6zM288 172h1.4v2h-1.4zM289.4 129h9.6v4h-9.6zM288 130h1.4v2h-1.4zM289.4 99h9.6v4h-9.6zM288 100h1.4v2h-1.4zM289.4 75h9.6v4h-9.6zM288 76h1.4v2h-1.4zM289.4 56h9.6v4h-9.6zM288 57h1.4v2h-1.4z"/>
<g filter="url(#bin)">
<g class="tk" text-anchor="middle">
<text transform="translate(299.7 1029.7) scale(1 1.05)">1E-4</text><text transform="translate(473.5 1029.7) scale(1 1.05)">1E-3</text><text transform="translate(647.3 1029.7) scale(1 1.05)">0,01</text><text transform="translate(821.1 1029.7) scale(1 1.05)">0,1</text><text transform="translate(994.9 1029.7) scale(1 1.05)">1</text><text transform="translate(1168.7 1029.7) scale(1 1.05)">10</text><text transform="translate(1342.5 1029.7) scale(1 1.05)">100</text><text transform="translate(1516.3 1029.7) scale(1 1.05)">1000</text>
</g>
<g class="tk" text-anchor="end">
<text transform="translate(270 977.1) scale(1 1.05)">10</text><text transform="translate(270 737.3) scale(1 1.05)">100</text><text transform="translate(270 497.4) scale(1 1.05)">1000</text><text transform="translate(270 257.6) scale(1 1.05)">10000</text>
</g>
<text class="ttl" text-anchor="middle" x="908.3" y="1128.7">Lambda [s]</text>
<text class="ttl" style="font-size:70.45px" text-anchor="middle" transform="translate(98.2 557.6) rotate(-90)">H(Lambda).Lambda [Pa.s]</text>
<text class="pc" x="1436.3" y="110.3">(c)</text>
<text class="lg" style="font-size:54.85px" transform="translate(309.5 105.8) scale(1 1.04)">PLA/PA11/JONC</text>
</g>
<g shape-rendering="crispEdges">
<rect x="313" y="128" width="382" height="339" fill="none" stroke="#000" stroke-width="2"/>
<path d="M323 167H447" stroke="#000000" stroke-width="2" fill="none"/><path d="M374 156h22v21h-22z" fill="#000000"/>
<path d="M323 234H447" stroke="#ff0000" stroke-width="2" fill="none"/><circle cx="385" cy="234" r="12" fill="#ff0000"/>
<path d="M323 301.3H447" stroke="#0000ff" stroke-width="3" fill="none"/><path d="M384.2 284.9h1.5l13.25 24.5h-28z" fill="#0000ff"/>
<path d="M323 368.8H447" stroke="#008080" stroke-width="2" fill="none"/><path d="M385.8 385.2h-1.5l-13.25 -24.5h28z" fill="#008080"/>
<path d="M323 435.8H447" stroke="#ff00ff" stroke-width="2" fill="none"/><path d="M369.4 436.6v-1.5l24.7 -13.25v28z" fill="#ff00ff"/>
</g>
<g class="lg" filter="url(#bin)">
<text transform="translate(462.3 185.9) scale(1 1.04)">100/0/0</text><text transform="translate(462.3 252.9) scale(1 1.04)">0/100/0</text><text transform="translate(462.3 320.1) scale(1 1.04)">80/20/0</text><text transform="translate(462.3 387.4) scale(1 1.04)">80/20/0,7</text><text transform="translate(462.3 454.5) scale(1 1.04)">80/20/1</text>
</g>
</svg>
</body>
</html>
